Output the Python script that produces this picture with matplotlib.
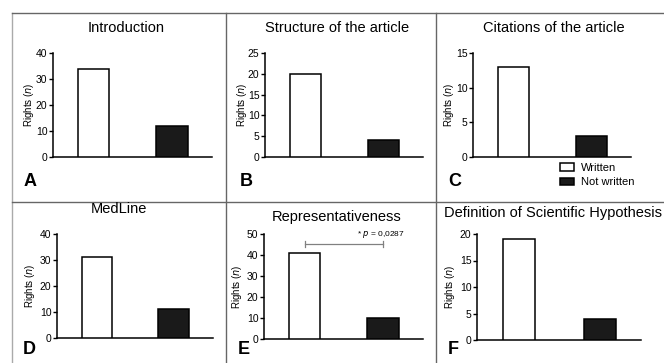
import matplotlib
matplotlib.use("Agg")
import matplotlib.pyplot as plt
from matplotlib.lines import Line2D
from matplotlib.patches import Patch

plt.rcParams['font.family'] = ['Liberation Sans', 'DejaVu Sans']

W, H = 664, 363

# ====== Data =====
titles = ["Introduction", "Structure of the article", "Citations of the article",
          "MedLine", "Representativeness", "Definition of Scientific Hypothesis"]
letters = ["A", "B", "C", "D", "E", "F"]
written = [34, 20, 13, 31, 41, 19]
not_written = [12, 4, 3, 11, 10, 4]
y_max = [40, 25, 15, 40, 50, 20]
y_step = [10, 5, 5, 10, 10, 5]
groups = ["Written", "Not written"]
p_text = "* $p$ = 0,0287"
bracket_y = 45.2

# axes box in pixels: x0, x1, y_top, y_zero
boxes = [(53, 212, 53, 157), (265, 423, 53, 157), (473, 631, 53, 157),
         (57, 213, 234, 338), (264, 423, 234, 339), (477, 641, 234, 340)]
title_pos = [(126, 28), (337, 28), (554, 28), (119, 209), (337, 217), (553, 213)]
ylab_x = [29, 242, 449, 30, 237, 450]
letter_pos = [(30, 181), (246, 181), (455, 182), (29, 349), (244, 349), (453, 350)]

fig = plt.figure(figsize=(W / 100, H / 100), dpi=100)


def fx(px):
    return px / W


def fy(py):
    return 1 - py / H


axes = []
for i in range(6):
    x0, x1, yt, yz = boxes[i]
    ax = fig.add_axes([fx(x0), fy(yz), (x1 - x0) / W, (yz - yt) / H])
    ax.bar([0, 1], [written[i], not_written[i]], width=0.4,
           color=["white", "#1a1a1a"], edgecolor="black", linewidth=1.1, zorder=3)
    ax.set_xlim(-0.52, 1.51)
    ax.set_ylim(0, y_max[i])
    ax.set_yticks(range(0, y_max[i] + 1, y_step[i]))
    ax.set_xticks([])
    ax.spines[['top', 'right']].set_visible(False)
    ax.spines['left'].set_linewidth(1.1)
    ax.spines['bottom'].set_linewidth(1.1)
    ax.tick_params(axis='y', labelsize=7.5, length=3, width=1.0, pad=1)
    ax.patch.set_alpha(0)

    fig.text(fx(title_pos[i][0]), fy(title_pos[i][1]), titles[i],
             ha='center', va='center', fontsize=10.5)
    fig.text(fx(ylab_x[i]), fy((yt + yz) / 2), "Rights ($n$)", rotation=90,
             ha='center', va='center', fontsize=7)
    fig.text(fx(letter_pos[i][0]), fy(letter_pos[i][1]), letters[i],
             ha='center', va='center', fontsize=13, fontweight='bold')
    axes.append(ax)

# significance bracket in panel E
axE = axes[4]
axE.plot([0, 1], [bracket_y, bracket_y], color='gray', lw=0.9, clip_on=False)
for xb in [0, 1]:
    axE.plot([xb, xb], [bracket_y - 1.5, bracket_y + 1.5], color='gray', lw=0.9, clip_on=False)
axE.text(1.28, 50, p_text, ha='right', va='center', fontsize=6, clip_on=False)

# legend under panel C
handles = [Patch(facecolor='white', edgecolor='black', linewidth=1.1, label=groups[0]),
           Patch(facecolor='#1a1a1a', edgecolor='black', linewidth=1.1, label=groups[1])]
fig.legend(handles=handles, loc='upper left', bbox_to_anchor=(fx(560), fy(163)),
           frameon=False, fontsize=8, handlelength=1.3, handleheight=0.7,
           handletextpad=0.6, labelspacing=0.4, borderpad=0, borderaxespad=0)

# panel borders
grid_col = '#666666'
lines = [((12, 12), (13, 363), '#aaaaaa'), ((12, 664), (13, 13), grid_col),
         ((226, 226), (13, 363), grid_col), ((436, 436), (13, 363), grid_col),
         ((12, 664), (202, 202), grid_col)]
for xs, ys, c in lines:
    fig.add_artist(Line2D([fx(xs[0]), fx(xs[1])], [fy(ys[0]), fy(ys[1])],
                          transform=fig.transFigure, color=c, lw=1.0))

fig.savefig("out.png", dpi=100)
